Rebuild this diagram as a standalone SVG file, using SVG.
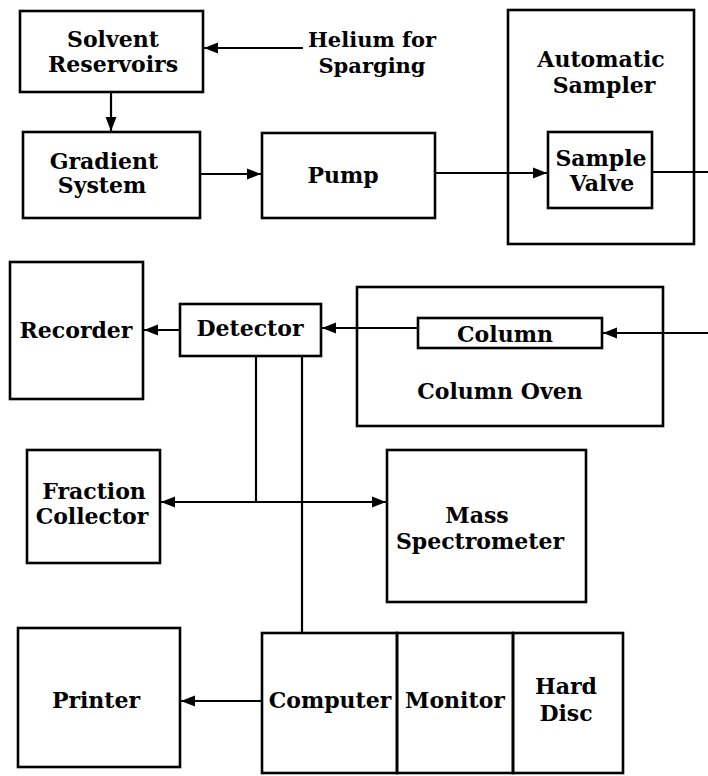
<svg xmlns="http://www.w3.org/2000/svg" width="708" height="776" viewBox="0 0 708 776">
<style>
.box{fill:none;stroke:#000;stroke-width:2.6}
.ln{fill:none;stroke:#000;stroke-width:2.2}
text{font-family:"DejaVu Serif","Liberation Serif",serif;font-weight:bold;font-size:22px;text-anchor:middle;fill:#000}
.sm{font-size:21px}
</style>
<defs>
<marker id="ah" markerUnits="userSpaceOnUse" markerWidth="15" markerHeight="12" refX="14" refY="6" orient="auto-start-reverse">
<path d="M0,0.5 L14,6 L0,11.5 z" fill="#000"/>
</marker>
</defs>
<rect width="708" height="776" fill="#fff"/>
<g id="connectors">
<path class="ln" d="M303,48 H204" marker-end="url(#ah)"/>
<path class="ln" d="M111,92 V131" marker-end="url(#ah)"/>
<path class="ln" d="M200,174 H261" marker-end="url(#ah)"/>
<path class="ln" d="M435,173 H547" marker-end="url(#ah)"/>
<path class="ln" d="M652,172 H708"/>
<path class="ln" d="M708,333 H603" marker-end="url(#ah)"/>
<path class="ln" d="M418,328 H322" marker-end="url(#ah)"/>
<path class="ln" d="M180,330 H144" marker-end="url(#ah)"/>
<path class="ln" d="M256,356 V502"/>
<path class="ln" d="M161,502 H386" marker-start="url(#ah)" marker-end="url(#ah)"/>
<path class="ln" d="M302,356 V632"/>
<path class="ln" d="M262,701 H181" marker-end="url(#ah)"/>
</g>
<g id="solvent-reservoirs">
<rect class="box" x="20" y="11" width="183" height="81"/>
<text x="113" y="47">Solvent</text>
<text x="113" y="72">Reservoirs</text>
</g>
<g id="helium">
<text class="sm" x="372" y="47">Helium for</text>
<text class="sm" x="372" y="73">Sparging</text>
</g>
<g id="gradient-system">
<rect class="box" x="23" y="132" width="177" height="86"/>
<text x="104" y="169">Gradient</text>
<text x="102" y="193">System</text>
</g>
<g id="pump">
<rect class="box" x="262" y="133" width="173" height="85"/>
<text x="343" y="183">Pump</text>
</g>
<g id="automatic-sampler">
<rect class="box" x="508" y="10" width="186" height="234"/>
<text x="601" y="67">Automatic</text>
<text x="604" y="93">Sampler</text>
</g>
<g id="sample-valve">
<rect class="box" x="548" y="132" width="104" height="76"/>
<text x="601" y="166">Sample</text>
<text x="602" y="191">Valve</text>
</g>
<g id="recorder">
<rect class="box" x="10" y="262" width="133" height="137"/>
<text x="76" y="338">Recorder</text>
</g>
<g id="detector">
<rect class="box" x="180" y="304" width="141" height="52"/>
<text x="250" y="336">Detector</text>
</g>
<g id="column-oven">
<rect class="box" x="357" y="287" width="306" height="139"/>
<text x="500" y="399">Column Oven</text>
</g>
<g id="column">
<rect class="box" x="418" y="318" width="184" height="30"/>
<text x="505" y="342">Column</text>
</g>
<g id="fraction-collector">
<rect class="box" x="27" y="450" width="133" height="113"/>
<text x="94" y="499">Fraction</text>
<text x="92" y="524">Collector</text>
</g>
<g id="mass-spectrometer">
<rect class="box" x="387" y="450" width="199" height="152"/>
<text x="477" y="523">Mass</text>
<text x="480" y="549">Spectrometer</text>
</g>
<g id="printer">
<rect class="box" x="18" y="628" width="162" height="139"/>
<text x="96" y="708">Printer</text>
</g>
<g id="computer">
<rect class="box" x="262" y="633" width="135" height="140"/>
<text x="330" y="708">Computer</text>
</g>
<g id="monitor">
<rect class="box" x="397" y="633" width="116" height="140"/>
<text x="455" y="708">Monitor</text>
</g>
<g id="hard-disc">
<rect class="box" x="513" y="633" width="110" height="140"/>
<text x="566" y="694">Hard</text>
<text x="566" y="721">Disc</text>
</g>
</svg>
